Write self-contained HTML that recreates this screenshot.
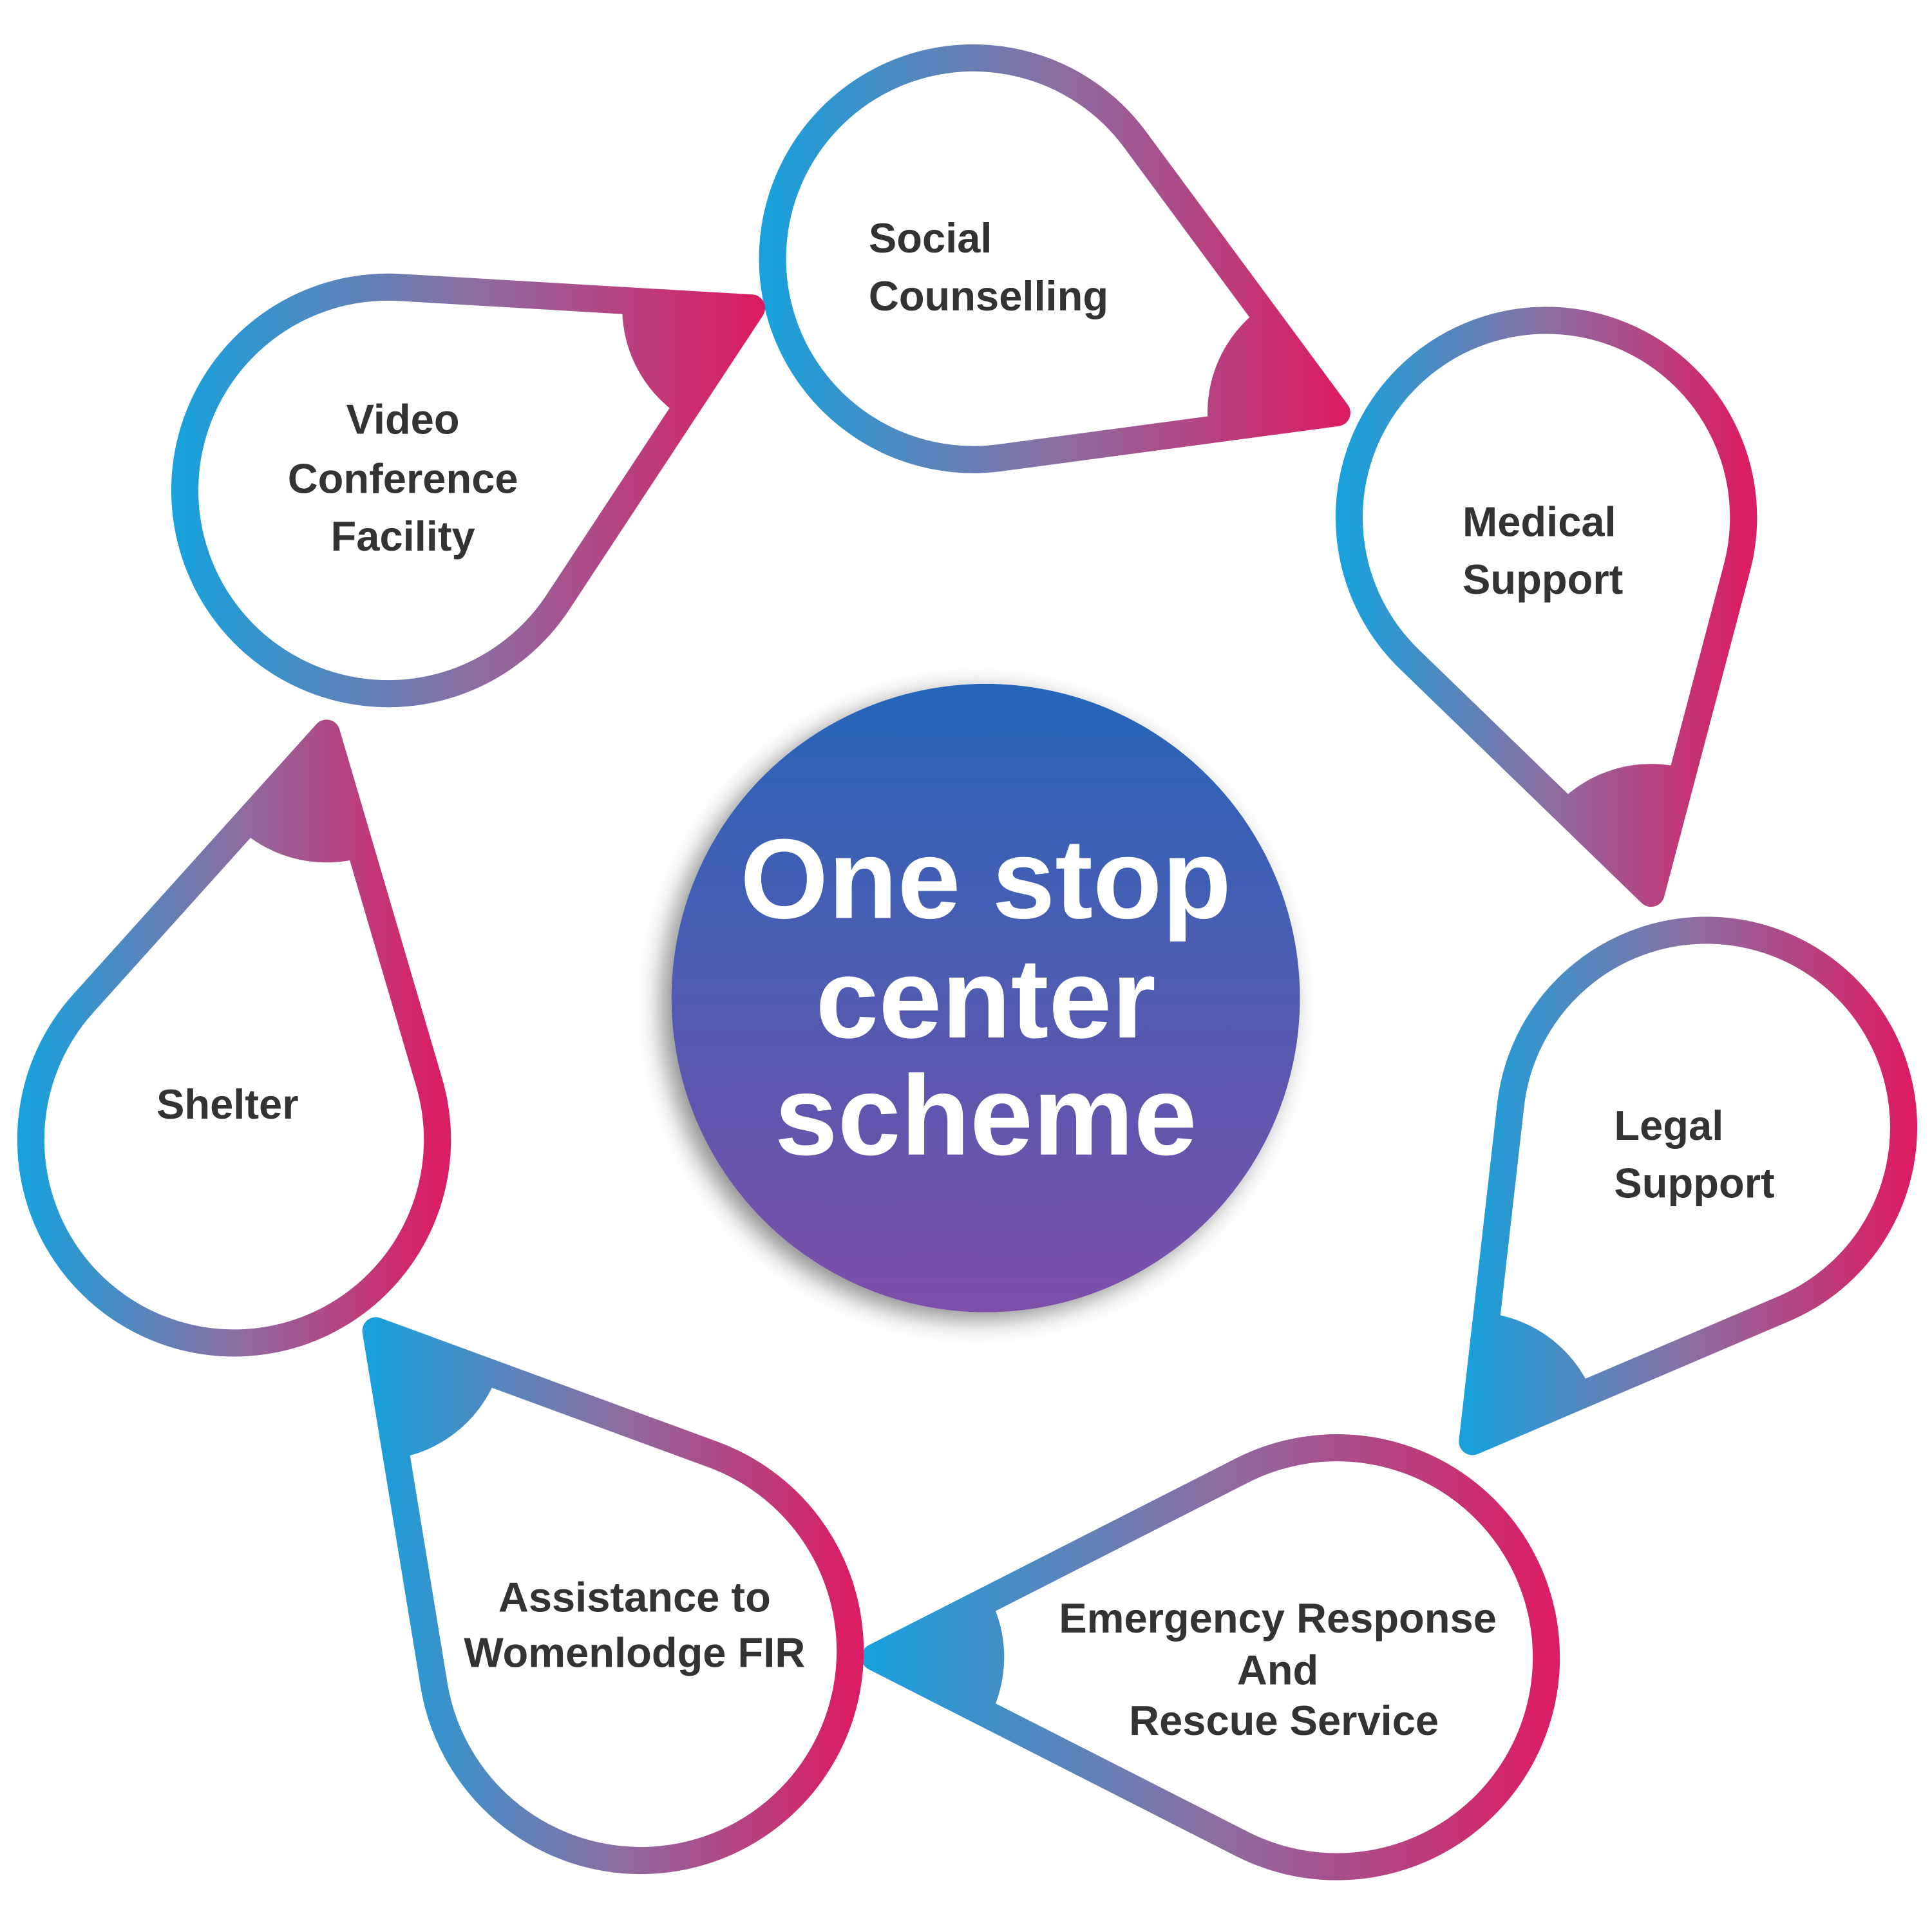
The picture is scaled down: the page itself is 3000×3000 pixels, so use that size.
<!DOCTYPE html>
<html><head><meta charset="utf-8"><style>
html,body{margin:0;padding:0;background:#fff;}
svg{display:block;}
text{font-family:"Liberation Sans",sans-serif;font-weight:bold;}
</style></head><body>
<svg id="s" width="3000" height="3000" viewBox="0 0 1568 1568" xmlns="http://www.w3.org/2000/svg">
<defs>
<linearGradient id="cg" x1="0" y1="0" x2="0" y2="1">
<stop offset="0" stop-color="#2566b8"/><stop offset="1" stop-color="#7d4fa9"/>
</linearGradient>
<filter id="sh" x="-20%" y="-20%" width="140%" height="140%">
<feGaussianBlur in="SourceAlpha" stdDeviation="10"/><feOffset dx="-8" dy="6"/>
<feComponentTransfer><feFuncA type="linear" slope="0.45"/></feComponentTransfer>
<feMerge><feMergeNode/><feMergeNode in="SourceGraphic"/></feMerge>
</filter>
</defs>
<g id="drops"></g>
<circle cx="800" cy="810" r="255" fill="url(#cg)" filter="url(#sh)"/>
<g fill="#fff" font-size="92" text-anchor="middle">
<text x="800" y="745">One stop</text>
<text x="800" y="842">center</text>
<text x="800" y="937">scheme</text>
</g>
<g fill="#333" font-size="34">
<text x="705" y="205">Social</text>
<text x="705" y="252">Counselling</text>
<text x="327" y="352" text-anchor="middle">Video</text>
<text x="327" y="400" text-anchor="middle">Conference</text>
<text x="327" y="447" text-anchor="middle">Facility</text>
<text x="1187" y="435">Medical</text>
<text x="1187" y="482">Support</text>
<text x="1310" y="925">Legal</text>
<text x="1310" y="972">Support</text>
<text x="1037" y="1325" text-anchor="middle">Emergency Response</text>
<text x="1037" y="1367" text-anchor="middle">And</text>
<text x="1042" y="1408" text-anchor="middle">Rescue Service</text>
<text x="515" y="1308" text-anchor="middle">Assistance to</text>
<text x="515" y="1353" text-anchor="middle">Womenlodge FIR</text>
<text x="127" y="908">Shelter</text>
</g>
</svg>
<script>
var D=[
[790,210,163,1085,335],
[1255,420,160,1340,725],
[1385,915,160,1195,1170],
[1085,1345,170,710,1345],
[520,1340,170,305,1080],
[190,925,165,265,595],
[315,398,165,610,250]
];
var NS="http://www.w3.org/2000/svg",g=document.getElementById("drops"),defs=document.querySelector("defs");
D.forEach(function(d,i){
 var cx=d[0],cy=d[1],r=d[2],tx=d[3],ty=d[4];
 var dx=tx-cx,dy=ty-cy,dist=Math.hypot(dx,dy),a=Math.atan2(dy,dx),b=Math.acos(r/dist);
 var p1=[cx+r*Math.cos(a+b),cy+r*Math.sin(a+b)],p2=[cx+r*Math.cos(a-b),cy+r*Math.sin(a-b)];
 var minx=Math.min(cx-r,tx),maxx=Math.max(cx+r,tx);
 var lg=document.createElementNS(NS,"linearGradient");
 lg.setAttribute("id","g"+i);lg.setAttribute("gradientUnits","userSpaceOnUse");
 lg.setAttribute("x1",minx);lg.setAttribute("y1",cy);lg.setAttribute("x2",maxx);lg.setAttribute("y2",cy);
 lg.innerHTML='<stop offset="0" stop-color="#1aa0da"/><stop offset="0.5" stop-color="#8a6fa3"/><stop offset="1" stop-color="#db1d63"/>';
 defs.appendChild(lg);
 // sector
 var R=105;
 var u1=[(p1[0]-tx)/Math.hypot(p1[0]-tx,p1[1]-ty),(p1[1]-ty)/Math.hypot(p1[0]-tx,p1[1]-ty)];
 var u2=[(p2[0]-tx)/Math.hypot(p2[0]-tx,p2[1]-ty),(p2[1]-ty)/Math.hypot(p2[0]-tx,p2[1]-ty)];
 var s=document.createElementNS(NS,"path");
 s.setAttribute("d","M"+tx+","+ty+" L"+(tx+R*u1[0])+","+(ty+R*u1[1])+" A"+R+","+R+" 0 0 1 "+(tx+R*u2[0])+","+(ty+R*u2[1])+" Z");
 s.setAttribute("fill","url(#g"+i+")");
 g.appendChild(s);
 var p=document.createElementNS(NS,"path");
 p.setAttribute("d","M"+p1[0]+","+p1[1]+" L"+tx+","+ty+" L"+p2[0]+","+p2[1]+" A"+r+","+r+" 0 1 0 "+p1[0]+","+p1[1]+" Z");
 p.setAttribute("fill","none");p.setAttribute("stroke","url(#g"+i+")");p.setAttribute("stroke-width","22");
 p.setAttribute("stroke-linejoin","round");
 g.appendChild(p);
});
</script>
</body></html>
